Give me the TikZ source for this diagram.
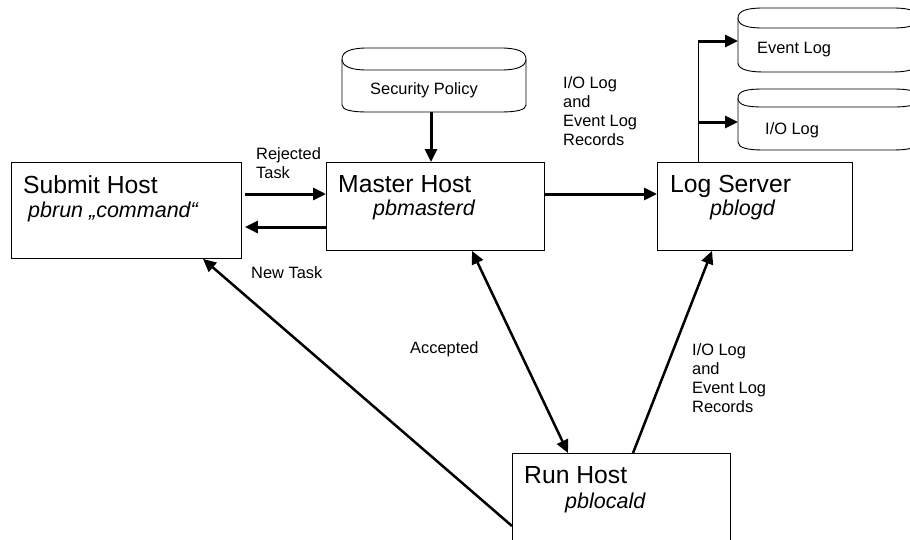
\documentclass[tikz,border=0pt]{standalone}
\usepackage{fontspec}
\setmainfont{Liberation Sans}
\usetikzlibrary{arrows.meta,calc}
\begin{document}
\begin{tikzpicture}[x=1pt,y=-1pt,
  box/.style={draw,line width=0.9pt,rectangle,inner sep=0pt,anchor=north west},
  titletext/.style={anchor=base west,inner sep=0pt,font=\fontsize{24.7}{28}\selectfont},
  subtext/.style={anchor=base west,inner sep=0pt,font=\fontsize{21.5}{25}\selectfont\itshape},
  lbl/.style={anchor=base west,inner sep=0pt,font=\fontsize{16.4}{19}\selectfont},
  mlbl/.style={anchor=north west,inner sep=0pt,align=left,font=\fontsize{16.4}{19}\selectfont},
  cyl/.style={draw,line width=0.9pt,fill=white},
  arr/.style={line width=3pt,-{Triangle[length=13pt,width=12pt]}},
  darr/.style={line width=2.5pt,-{Triangle[length=13pt,width=12pt]}},
  ddarr/.style={line width=2.5pt,{Triangle[length=13pt,width=12pt]}-{Triangle[length=13pt,width=12pt]}},
  thin/.style={line width=0.9pt}
]
\useasboundingbox (0,0) rectangle (910,539);
\clip (0,0) rectangle (910,539);
\fill[white] (0,0) rectangle (910,539);

% boxes
\node[box,minimum width=230pt,minimum height=96pt] (submit) at (11,162) {};
\node[box,minimum width=218pt,minimum height=88pt] (master) at (326,162) {};
\node[box,minimum width=195pt,minimum height=88pt] (logsrv) at (657,162) {};
\node[box,minimum width=218pt,minimum height=110pt] (run) at (512,453) {};

\node[titletext] (submitT) at (23,193) {Submit Host};
\node[subtext] (submitS) at (28,217) {pbrun „command“};
\node[titletext] (masterT) at (338,192) {Master Host};
\node[subtext] (masterS) at (373,215) {pbmasterd};
\node[titletext] (logT) at (670,192) {Log Server};
\node[subtext] (logS) at (710,215) {pblogd};
\node[titletext] (runT) at (524,483) {Run Host};
\node[subtext] (runS) at (565,508) {pblocald};

% Security Policy cylinder
\draw[cyl] (342,59) -- (342,105) .. controls (342,110) and (352,112) .. (367,112) -- (501,112)
  .. controls (516,112) and (526,110) .. (526,105) -- (526,59);
\draw[cyl] (342,59) .. controls (342,52) and (350,48) .. (367,48) -- (501,48)
  .. controls (518,48) and (526,52) .. (526,59) .. controls (526,66) and (518,70) .. (501,70)
  -- (367,70) .. controls (350,70) and (342,66) .. (342,59) -- cycle;
\node[lbl] (secT) at (370,94) {Security Policy};
\coordinate (secB) at (431,112);

% Event Log cylinder
\draw[cyl] (738,18) -- (738,63) .. controls (738,69) and (748,72) .. (763,72) -- (893,72)
  .. controls (908,72) and (918,69) .. (918,63) -- (918,18);
\draw[cyl] (738,18) .. controls (738,11) and (746,8) .. (763,8) -- (893,8)
  .. controls (910,8) and (918,11) .. (918,18) .. controls (918,25) and (910,28) .. (893,28)
  -- (763,28) .. controls (746,28) and (738,25) .. (738,18) -- cycle;
\node[lbl] (evT) at (757,53) {Event Log};
\coordinate (evL) at (738,41);

% I/O Log cylinder
\draw[cyl] (738,98) -- (738,142) .. controls (738,148) and (748,150) .. (763,150) -- (893,150)
  .. controls (908,150) and (918,148) .. (918,142) -- (918,98);
\draw[cyl] (738,98) .. controls (738,91) and (746,89) .. (763,89) -- (893,89)
  .. controls (910,89) and (918,91) .. (918,98) .. controls (918,105) and (910,107) .. (893,107)
  -- (763,107) .. controls (746,107) and (738,105) .. (738,98) -- cycle;
\node[lbl] (ioT) at (765,134) {I/O Log};
\coordinate (ioL) at (738,122);

% helper levels
\coordinate (yA) at (0,194);
\coordinate (yB) at (0,227);
\coordinate (trunkTop) at (698,41);
\coordinate (trunkMid) at (698,122);

% connectors
\draw[arr] (secB) -- (secB |- master.north);
\draw[arr,shorten <=3pt] (submit.east |- yA) -- (master.west |- yA);
\draw[arr,shorten >=3pt] (master.west |- yB) -- (submit.east |- yB);
\draw[arr] (master.east |- yA) -- (logsrv.west |- yA);
\draw[thin] (trunkTop |- logsrv.north) -- (trunkTop);
\draw[arr] (trunkTop) -- (evL);
\draw[arr] (trunkMid) -- (ioL);

\draw[darr] ($(run.north west)+(0,73)$) -- ($(submit.south west)+(192,0)$);
\draw[ddarr] ($(master.south west)+(146,0)$) -- ($(run.north west)+(56,0)$);
\draw[darr] ($(run.north west)+(121,0)$) -- ($(logsrv.south west)+(55,0)$);

% labels
\node[mlbl] (rejL) at (256,147.3) {Rejected\\Task};
\node[mlbl] (recTop) at (563,76.1) {I/O Log\\and\\Event Log\\Records};
\node[lbl] (newL) at (251,278) {New Task};
\node[lbl] (accL) at (410,353) {Accepted};
\node[mlbl] (recBot) at (692,343.1) {I/O Log\\and\\Event Log\\Records};
\end{tikzpicture}
\end{document}
